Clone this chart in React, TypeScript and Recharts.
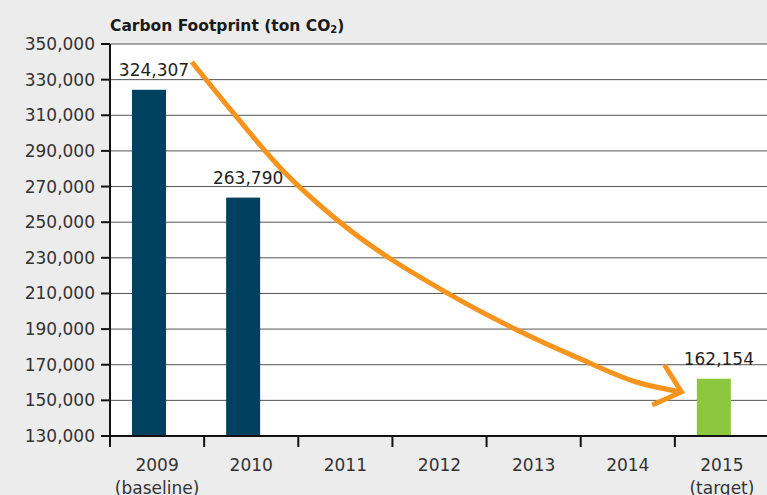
import { Bar, CartesianGrid, Cell, ComposedChart, LabelList, Line, XAxis, YAxis } from "recharts";

const years = ["2009", "2010", "2011", "2012", "2013", "2014", "2015"];
const yearNotes = ["(baseline)", "", "", "", "", "", "(target)"];
const footprint = [324307, 263790, null, null, null, null, 162154];
const barColors = ["#00415f", "#00415f", "#00415f", "#00415f", "#00415f", "#00415f", "#8dc63f"];
const yTicks = [130000, 150000, 170000, 190000, 210000, 230000, 250000, 270000, 290000, 310000, 330000, 350000];

// orange trend arrow (x in category units from the left edge)
const curveX = [0.87, 1.31, 1.8, 2.44, 3.58, 4.28, 5.02, 5.59, 6.07];
const curveY = [339900, 311300, 281000, 250100, 210300, 190600, 172700, 160300, 154700];
const headX = [5.89, 6.07, 5.76];
const headY = [169850, 154700, 147400];

const data = years.map((year, i) => ({ year, note: yearNotes[i], value: footprint[i] }));
const curve = curveX.map((x, i) => ({ x, y: curveY[i] }));
const head = headX.map((x, i) => ({ x, y: headY[i] }));

const fmt = (v: number) => v.toLocaleString("en-US");
const FONT = "'DejaVu Sans', sans-serif";
const SHIFT = 8;

function ShiftedBar(props: any) {
  const { x, y, width, height, fill } = props;
  if (!height) return null;
  return <rect x={x - SHIFT} y={y} width={width} height={height} fill={fill} />;
}

function ValueLabel(props: any) {
  const { x, y, width, value } = props;
  if (value == null) return null;
  return (
    <text x={x + width / 2 - 3} y={y - 14} textAnchor="middle" fontSize={17} fill="#231f20" fontFamily={FONT}>
      {fmt(value)}
    </text>
  );
}

function YearTick(props: any) {
  const { x, y, payload } = props;
  const half = payload.offset ?? 0;
  const note = yearNotes[payload.index] ?? "";
  return (
    <g>
      <line x1={x - half} x2={x - half} y1={y} y2={y + 11} stroke="#111" strokeWidth={2} />
      <text x={x} y={y + 35} textAnchor="middle" fontSize={17} fill="#333" fontFamily={FONT}>
        {payload.value}
      </text>
      {note && (
        <text x={x} y={y + 58} textAnchor="middle" fontSize={17} fill="#333" fontFamily={FONT}>
          {note}
        </text>
      )}
    </g>
  );
}

export default function App() {
  return (
    <div style={{ position: "absolute", left: 0, top: 0, width: 767, height: 495, overflow: "hidden", background: "#ececec" }}>
      <div
        style={{
          position: "absolute",
          left: 110,
          top: 17,
          fontFamily: FONT,
          fontWeight: "bold",
          fontSize: 15.5,
          color: "#1a1a1a",
          whiteSpace: "nowrap",
        }}
      >
        Carbon Footprint (ton CO<sub style={{ fontSize: 10, verticalAlign: "-2px" }}>2</sub>)
      </div>
      <ComposedChart
        width={780}
        height={495}
        data={data}
        margin={{ top: 44, right: 11, bottom: 0, left: 10 }}
        barSize={34}
      >
        <CartesianGrid vertical={false} fill="#ffffff" stroke="#555" strokeWidth={1} />
        <XAxis
          xAxisId="cat"
          dataKey="year"
          type="category"
          height={59}
          tickSize={0}
          tickMargin={0}
          axisLine={{ stroke: "#111", strokeWidth: 2 }}
          tick={<YearTick />}
          interval={0}
        />
        <XAxis
          xAxisId="arrow"
          orientation="top"
          height={0}
          type="number"
          dataKey="x"
          domain={[0, 7]}
          hide
          allowDataOverflow
        />
        <YAxis
          domain={[130000, 350000]}
          ticks={yTicks}
          interval={0}
          width={100}
          tickSize={9}
          tickMargin={6}
          tickFormatter={fmt}
          axisLine={{ stroke: "#111", strokeWidth: 2 }}
          tickLine={{ stroke: "#111", strokeWidth: 2 }}
          tick={{ fontSize: 17, fill: "#333", fontFamily: FONT }}
          allowDataOverflow
        />
        <Bar xAxisId="cat" dataKey="value" shape={<ShiftedBar />} isAnimationActive={false}>
          {data.map((d, i) => (
            <Cell key={d.year} fill={barColors[i]} />
          ))}
          <LabelList dataKey="value" content={<ValueLabel />} />
        </Bar>
        <Line
          xAxisId="arrow"
          data={curve}
          dataKey="y"
          type="monotone"
          stroke="#f7941d"
          strokeWidth={5}
          strokeLinecap="butt"
          dot={false}
          activeDot={false}
          isAnimationActive={false}
        />
        <Line
          xAxisId="arrow"
          data={head}
          dataKey="y"
          type="linear"
          stroke="#f7941d"
          strokeWidth={5}
          strokeLinecap="butt"
          strokeLinejoin="miter"
          dot={false}
          activeDot={false}
          isAnimationActive={false}
        />
      </ComposedChart>
    </div>
  );
}
